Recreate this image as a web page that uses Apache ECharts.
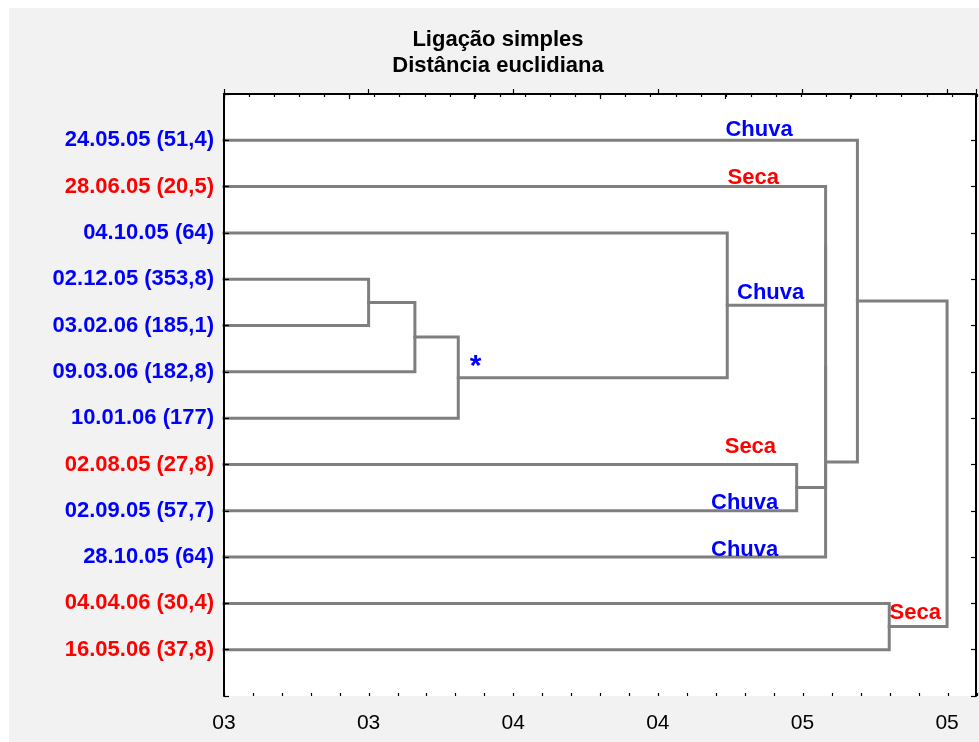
<!DOCTYPE html>
<html><head><meta charset="utf-8">
<script src="https://cdn.jsdelivr.net/npm/echarts@6/dist/echarts.min.js"></script>
<style>
html,body{margin:0;padding:0;background:#fff;width:979px;height:742px;overflow:hidden}
#c{position:absolute;left:9px;top:8px;width:970px;height:734px;background:#f2f2f2}
</style>
</head><body><div id="c"></div>
<script>
// ---- data ----
const leafLabels = ['24.05.05 (51,4)','28.06.05 (20,5)','04.10.05 (64)','02.12.05 (353,8)','03.02.06 (185,1)','09.03.06 (182,8)','10.01.06 (177)','02.08.05 (27,8)','02.09.05 (57,7)','28.10.05 (64)','04.04.06 (30,4)','16.05.06 (37,8)'];
const leafSeason = ['Chuva','Seca','Chuva','Chuva','Chuva','Chuva','Chuva','Seca','Chuva','Chuva','Seca','Seca'];
// single-linkage merges: cluster ids continue after leaves (12, 13, ...)
const mergeA = [3, 12, 13, 2, 7, 1, 17, 18, 0, 10, 20];
const mergeB = [4, 5, 6, 14, 8, 15, 16, 9, 19, 11, 21];
const mergeHeight = [3.50, 3.66, 3.81, 4.74, 4.98, 5.08, 5.08, 5.08, 5.19, 5.30, 5.50];
const xTickLabels = ['03', '03', '04', '04', '05', '05'];
const annotText = ['Chuva', 'Seca', 'Chuva', 'Seca', 'Chuva', 'Chuva', 'Seca', '*'];
const annotGroup = ['Chuva', 'Seca', 'Chuva', 'Seca', 'Chuva', 'Chuva', 'Seca', 'Chuva'];
const annotX = [4.85, 4.83, 4.89, 4.82, 4.80, 4.80, 5.39, 3.87];
const annotY = [0.77, 1.81, 4.29, 7.62, 8.83, 9.85, 11.21, 5.88];
const annotSize = [22, 22, 22, 22, 22, 22, 22, 30];
const titleLines = ['Ligação simples', 'Distância euclidiana'];

// ---- build ----
const X_MIN = 3.0, X_MAX = 5.6;
const groupColor = { Chuva: '#0000ff', Seca: '#ff0000' };
const FONT = '"Liberation Sans", Arial, Helvetica, sans-serif';

const nodeX = [], nodeY = [];
leafLabels.forEach((l, i) => { nodeX.push(X_MIN); nodeY.push(i + 1); });
const lineSeries = [];
mergeA.forEach((a, k) => {
  const b = mergeB[k], h = mergeHeight[k];
  lineSeries.push({
    type: 'line', xAxisIndex: 0, yAxisIndex: 0, symbol: 'none', silent: true, z: 2,
    lineStyle: { color: '#7f7f7f', width: 3, cap: 'square', join: 'miter' },
    data: [[nodeX[a], nodeY[a]], [h, nodeY[a]], [h, nodeY[b]], [nodeX[b], nodeY[b]]]
  });
  nodeX.push(h); nodeY.push((nodeY[a] + nodeY[b]) / 2);
});

const rich = {};
Object.keys(groupColor).forEach(g => {
  rich[g] = { color: groupColor[g], fontWeight: 'bold', fontSize: 22, fontFamily: FONT };
});

const tickStyle = { color: '#000', width: 1.2 };
const lineStyleAx = { color: '#000', width: 2 };

const chart = echarts.init(document.getElementById('c'), null, { renderer: 'canvas' });
chart.setOption({
  animation: false,
  backgroundColor: '#f2f2f2',
  graphic: titleLines.map((t, i) => ({
    type: 'text', x: 489, y: 32 + i * 26, silent: true,
    style: { text: t, align: 'center', verticalAlign: 'middle', fill: '#000',
      font: 'bold 22px ' + FONT }
  })),
  grid: [
    { left: 215, top: 86, width: 753, height: 602, show: true, backgroundColor: '#fff', borderWidth: 0 },
    { left: 215, top: 86, width: 753, height: 602, show: false }
  ],
  xAxis: [
    { gridIndex: 0, type: 'value', position: 'bottom', min: X_MIN, max: X_MAX, interval: 0.5,
      axisLine: { show: true, lineStyle: lineStyleAx },
      axisTick: { show: true, inside: true, length: 5, lineStyle: tickStyle },
      splitLine: { show: false },
      axisLabel: { show: true, margin: 17, color: '#000', fontSize: 21, fontFamily: FONT,
        showMaxLabel: true,
        formatter: v => {
          const idx = Math.round((v - X_MIN) / 0.5);
          if (Math.abs(v - (X_MIN + idx * 0.5)) > 1e-6) return '';
          return xTickLabels[idx] || '';
        } } },
    { gridIndex: 0, type: 'value', position: 'top', min: 0, max: 30, interval: 5,
      axisLine: { show: true, lineStyle: lineStyleAx },
      axisTick: { show: true, inside: true, length: 5, lineStyle: tickStyle },
      splitLine: { show: false }, axisLabel: { show: false } },
    { gridIndex: 1, type: 'value', position: 'bottom', min: X_MIN, max: X_MAX, interval: 0.1,
      axisLine: { show: false },
      axisTick: { show: true, inside: true, length: 3, lineStyle: tickStyle },
      splitLine: { show: false }, axisLabel: { show: false } },
    { gridIndex: 1, type: 'value', position: 'top', min: 0, max: 30, interval: 1,
      axisLine: { show: false },
      axisTick: { show: true, inside: true, length: 3, lineStyle: tickStyle },
      splitLine: { show: false }, axisLabel: { show: false } }
  ],
  yAxis: [
    { gridIndex: 0, type: 'value', position: 'left', min: 0, max: leafLabels.length + 1, interval: 1, inverse: true, z: 3,
      axisLine: { show: true, lineStyle: lineStyleAx },
      axisTick: { show: true, inside: true, length: 5, lineStyle: tickStyle },
      splitLine: { show: false },
      axisLabel: { show: true, margin: 10, rich: rich,
        formatter: v => {
          const i = Math.round(v) - 1;
          if (i < 0 || i >= leafLabels.length) return '';
          return '{' + leafSeason[i] + '|' + leafLabels[i] + '}';
        } } },
    { gridIndex: 0, type: 'value', position: 'right', min: 0, max: leafLabels.length + 1, interval: 1, inverse: true, z: 3,
      axisLine: { show: true, lineStyle: lineStyleAx },
      axisTick: { show: true, inside: true, length: 5, lineStyle: tickStyle },
      splitLine: { show: false }, axisLabel: { show: false } },
    { gridIndex: 1, type: 'value', show: false, min: 0, max: 1 }
  ],
  series: lineSeries.concat([{
    type: 'scatter', xAxisIndex: 0, yAxisIndex: 0, symbolSize: 0, silent: true, z: 5,
    itemStyle: { opacity: 1 },
    data: annotText.map((t, i) => ({
      value: [annotX[i], annotY[i]],
      itemStyle: { opacity: 1 },
      label: { show: true, position: 'inside', formatter: t, color: groupColor[annotGroup[i]], opacity: 1,
        fontWeight: 'bold', fontSize: annotSize[i], fontFamily: FONT }
    }))
  }])
});
</script>
</body></html>
